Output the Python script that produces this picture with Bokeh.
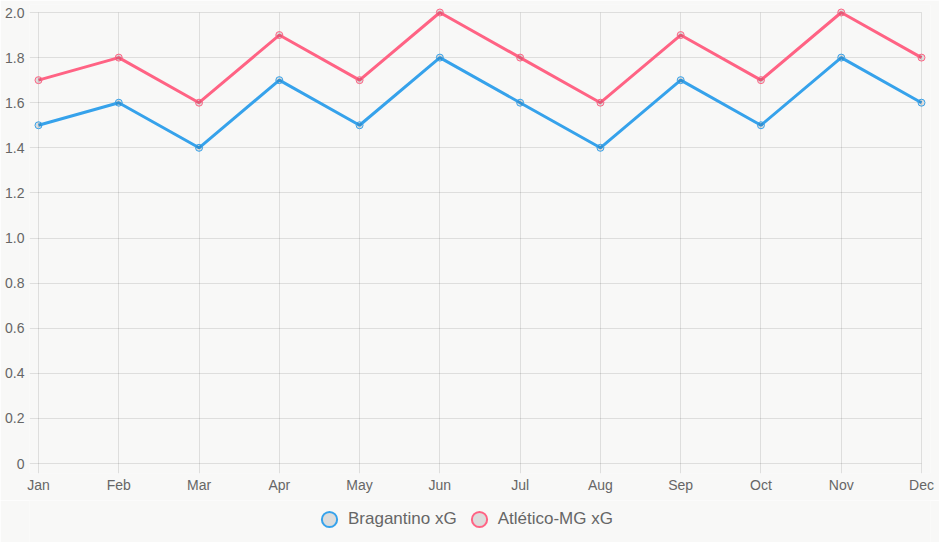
from bokeh.plotting import figure
from bokeh.layouts import column
from bokeh.models import (ColumnDataSource, Range1d, FixedTicker, Legend, LegendItem,
                          NumeralTickFormatter)
from bokeh.embed import file_html
from bokeh.resources import INLINE

# Monthly expected goals (xG)
months = ["Jan", "Feb", "Mar", "Apr", "May", "Jun",
          "Jul", "Aug", "Sep", "Oct", "Nov", "Dec"]
bragantino_xg = [1.5, 1.6, 1.4, 1.7, 1.5, 1.8, 1.6, 1.4, 1.7, 1.5, 1.8, 1.6]
atletico_xg = [1.7, 1.8, 1.6, 1.9, 1.7, 2.0, 1.8, 1.6, 1.9, 1.7, 2.0, 1.8]
y_ticks = [0, 0.2, 0.4, 0.6, 0.8, 1.0, 1.2, 1.4, 1.6, 1.8, 2.0]

BLUE = "#36a2eb"
RED = "#ff6384"
BG = "#f8f8f7"
TEXT = "#666666"
FONT = "Liberation Sans"

idx = list(range(len(months)))
src = ColumnDataSource(dict(x=idx, brag=bragantino_xg, atl=atletico_xg))

# small padding around the data so end points and the top line are not clipped
x_pad_l = 9 / 80.27
x_pad_r = 9 / 80.27
y_pad_b = 10 / 225.5
y_pad_t = 8 / 225.5
x_lo, x_hi = 0 - x_pad_l, (len(months) - 1) + x_pad_r
y_lo, y_hi = 0 - y_pad_b, max(y_ticks) + y_pad_t

p = figure(width=939, height=500, output_backend="svg", toolbar_location=None,
           x_range=Range1d(x_lo, x_hi), y_range=Range1d(y_lo, y_hi),
           min_border_left=29, min_border_right=9, min_border_top=4,
           min_border_bottom=27)
p.background_fill_color = BG
p.border_fill_color = BG
p.outline_line_color = None

# axes
p.xaxis.ticker = FixedTicker(ticks=idx)
p.xaxis.major_label_overrides = {i: m for i, m in enumerate(months)}
p.yaxis.ticker = FixedTicker(ticks=y_ticks)
p.yaxis.formatter = NumeralTickFormatter(format="0.0")
p.yaxis.major_label_overrides = {0: "0"}
for ax in (p.xaxis[0], p.yaxis[0]):
    ax.axis_line_color = None
    ax.major_tick_line_color = None
    ax.minor_tick_line_color = None
    ax.major_label_text_font = FONT
    ax.major_label_text_font_size = "14px"
    ax.major_label_text_color = TEXT
p.xaxis.major_label_standoff = -3
p.yaxis.major_label_standoff = -1

# grid
p.xgrid.ticker = FixedTicker(ticks=idx)
p.ygrid.ticker = FixedTicker(ticks=y_ticks)
for g in (p.xgrid[0], p.ygrid[0]):
    g.grid_line_color = "black"
    g.grid_line_alpha = 0.1
    g.grid_line_width = 1
p.xgrid.cross_bounds = (y_lo, max(y_ticks))
p.ygrid.cross_bounds = (x_lo, len(months) - 1)

# series
for col, color in (("brag", BLUE), ("atl", RED)):
    p.line("x", col, source=src, line_color=color, line_width=3)
    p.scatter("x", col, source=src, size=7, line_color=color, line_width=1,
              fill_color="black", fill_alpha=0.1)

# legend strip below the chart
lg = figure(width=939, height=42, output_backend="svg", toolbar_location=None,
            x_range=Range1d(0, 1), y_range=Range1d(0, 1),
            min_border=0, x_axis_location=None, y_axis_location=None)
lg.background_fill_color = BG
lg.border_fill_color = BG
lg.outline_line_color = None
lg.grid.visible = False

nan = float("nan")
leg_src = ColumnDataSource(dict(x=[nan], y=[nan]))
leg_b = lg.scatter("x", "y", source=leg_src, line_color=BLUE, line_width=2,
                   fill_color="#dcdcdc")
leg_a = lg.scatter("x", "y", source=leg_src, line_color=RED, line_width=2,
                   fill_color="#dcdcdc")

legend = Legend(items=[LegendItem(label="Bragantino xG", renderers=[leg_b]),
                       LegendItem(label="Atlético-MG xG", renderers=[leg_a])],
                orientation="horizontal", location=(281, 4),
                glyph_width=38, glyph_height=38, label_standoff=0, spacing=3,
                padding=0, margin=0,
                label_text_font=FONT, label_text_font_size="17px",
                label_text_color=TEXT,
                background_fill_alpha=0, border_line_color=None)
lg.add_layout(legend, "center")

layout = column(p, lg, spacing=0)
open("out.html", "w").write(file_html(layout, INLINE))
